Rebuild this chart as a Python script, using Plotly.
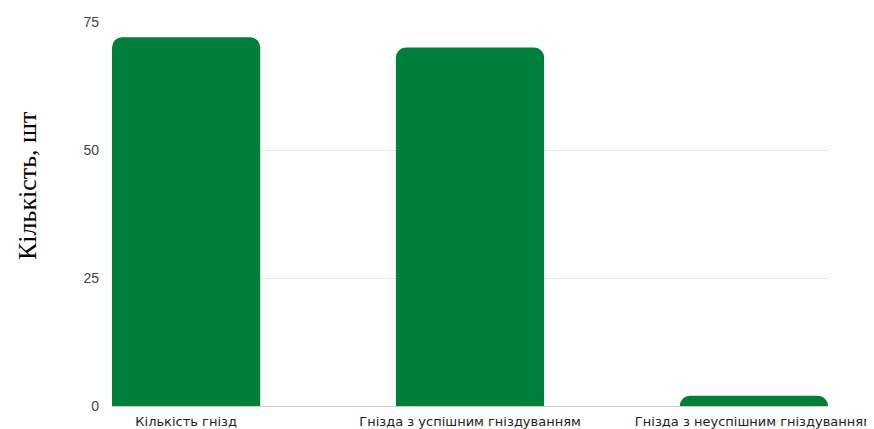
import plotly.graph_objects as go

categories = ["Кількість гнізд", "Гнізда з успішним гніздуванням", "Гнізда з неуспішним гніздуванням"]
values = [72, 70, 2]
y_ticks = [0, 25, 50, 75]

fig = go.Figure(go.Bar(
    x=categories, y=values,
    marker=dict(color="#007F3A", line=dict(width=0)),
    hoverinfo="x+y",
))

fig.update_layout(
    width=874, height=429,
    margin=dict(l=104, r=54, t=14, b=31),
    paper_bgcolor="white", plot_bgcolor="white",
    bargap=0.478,
    barcornerradius=10,
    showlegend=False,
    font=dict(family="Noto Sans, Arial, sans-serif", size=13, color="#333"),
    annotations=[dict(
        text="Кількість, шт", textangle=-90,
        xref="paper", yref="paper", x=-0.1173, y=0.573,
        xanchor="center", yanchor="middle", showarrow=False,
        font=dict(family="Liberation Serif, Times New Roman, serif", size=26, color="#000"),
    )],
)
fig.update_xaxes(
    range=[-0.261, 2.261],
    showgrid=False,
    showline=True, linecolor="#cccccc", linewidth=1,
    ticks="", ticklabelstandoff=3,
    tickfont=dict(family="DejaVu Sans, Noto Sans, sans-serif", size=13, color="#222"),
    automargin=False, fixedrange=True,
)
fig.update_yaxes(
    range=[0, 75], tickvals=y_ticks,
    showgrid=True, gridcolor="#e6e6e6", gridwidth=1,
    zeroline=False,
    ticks="", ticklabelstandoff=12,
    tickfont=dict(family="Liberation Sans, Arial, sans-serif", size=14, color="#444"),
    automargin=False, fixedrange=True,
)

fig.write_html("out.html")
